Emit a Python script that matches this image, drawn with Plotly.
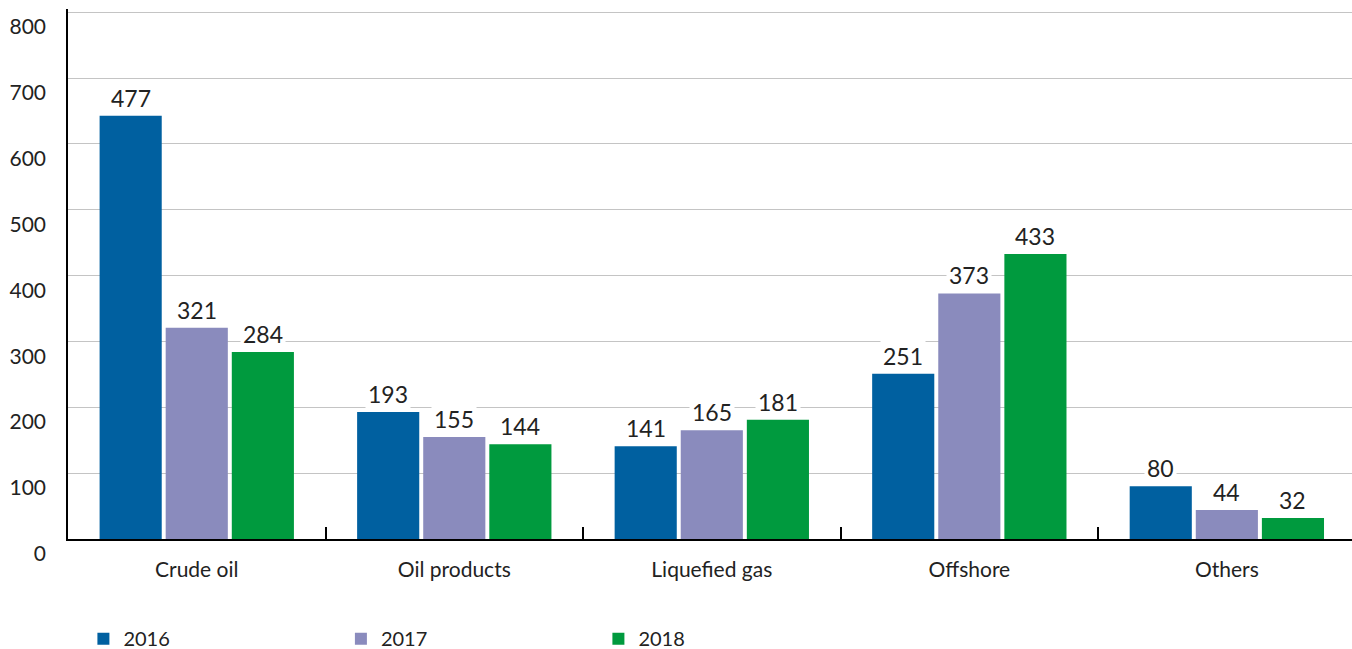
import plotly.graph_objects as go

categories = ["Crude oil", "Oil products", "Liquefied gas", "Offshore", "Others"]
years = ["2016", "2017", "2018"]
# bar heights as drawn in the picture
values_2016 = [643, 193, 141, 251, 80]
values_2017 = [321, 155, 165, 373, 44]
values_2018 = [284, 144, 181, 433, 32]
# value labels as printed in the picture
labels_2016 = ["477", "193", "141", "251", "80"]
labels_2017 = ["321", "155", "165", "373", "44"]
labels_2018 = ["284", "144", "181", "433", "32"]
y_ticks = [0, 100, 200, 300, 400, 500, 600, 700, 800]

colors = ["#0060a0", "#8a8bbd", "#009a3e"]
FONT = "Lato"
TXT = "#222222"
BARGAP = 0.23

series_vals = [values_2016, values_2017, values_2018]
series_labels = [labels_2016, labels_2017, labels_2018]

fig = go.Figure()
for k, (yr, vals) in enumerate(zip(years, series_vals)):
    fig.add_trace(go.Bar(
        name=yr, x=categories, y=vals,
        marker=dict(color=colors[k], line=dict(width=0)),
    ))

annotations = []
slot = (1 - BARGAP) / 3
for k, labs in enumerate(series_labels):
    for i, (lab, v) in enumerate(zip(labs, series_vals[k])):
        annotations.append(dict(
            x=i + (k - 1) * slot, y=v, xref="x", yref="y",
            text=lab, showarrow=False, yanchor="bottom", yshift=1,
            bgcolor="white", borderpad=2,
            font=dict(family=FONT, size=23, color=TXT),
        ))

fig.update_layout(
    width=1352, height=649,
    margin=dict(l=68, r=0, t=9, b=110, autoexpand=False),
    paper_bgcolor="white", plot_bgcolor="white",
    barmode="group", bargap=BARGAP, bargroupgap=0.06,
    font=dict(family=FONT, size=20, color=TXT),
    showlegend=True,
    legend=dict(orientation="h", x=0.012, y=-0.188, xanchor="left", yanchor="middle",
                entrywidth=212.5, entrywidthmode="pixels",
                font=dict(family=FONT, size=20, color=TXT),
                bgcolor="rgba(0,0,0,0)", traceorder="normal"),
    annotations=annotations,
    xaxis=dict(
        type="category", range=[-0.5, 4.486],
        showline=True, linecolor="black", linewidth=1.5,
        ticks="inside", tickson="boundaries", ticklen=12, tickcolor="black", tickwidth=1.5,
        showgrid=False, tickfont=dict(family=FONT, size=21, color=TXT),
        ticklabelstandoff=11,
    ),
    yaxis=dict(
        range=[0, 805], tickvals=y_ticks,
        showline=True, linecolor="black", linewidth=1.5,
        showgrid=True, gridcolor="#c4c4c4", gridwidth=1,
        zeroline=False, ticks="",
        tickfont=dict(family=FONT, size=21, color=TXT),
        ticklabelposition="outside bottom",
        ticklabelstandoff=16, ticklabeloverflow="allow",
    ),
)

fig.write_html("out.html")
